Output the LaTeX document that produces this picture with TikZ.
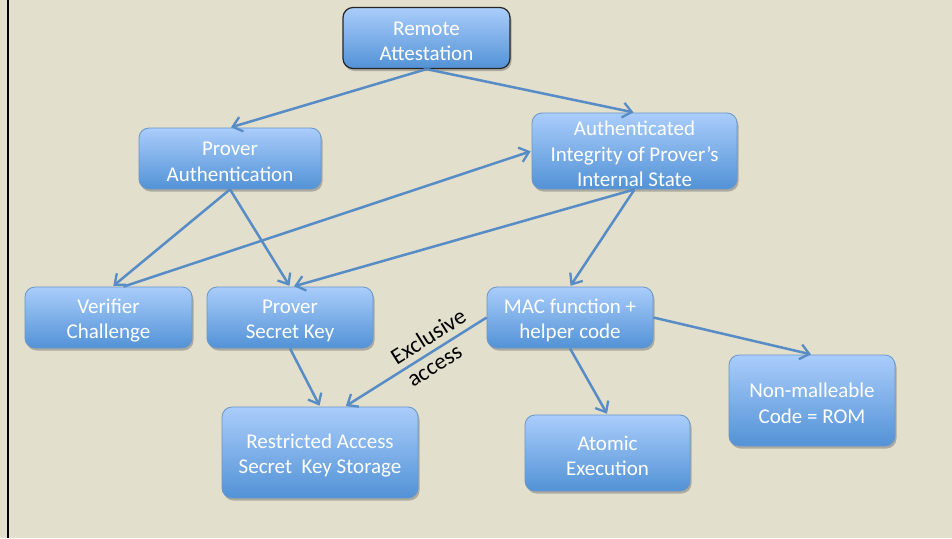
\documentclass[tikz,border=0pt]{standalone}
\usepackage{fontspec}
\setmainfont{Carlito}
\usetikzlibrary{arrows.meta,shadows}
\definecolor{paper}{RGB}{226,223,204}
\definecolor{boxtop}{RGB}{170,205,251}
\definecolor{boxbot}{RGB}{82,146,214}
\definecolor{boxline}{RGB}{104,150,204}
\definecolor{link}{RGB}{88,140,198}
% a tall invisible strut on the first line sets the text a little lower in its box
\newcommand{\padtop}{\rule{0pt}{20.5pt}}
\tikzset{
  goal/.style={rectangle, rounded corners=10pt, draw=boxline, line width=0.8pt,
    top color=boxtop, bottom color=boxbot, text=white, align=center,
    font=\fontsize{21}{25.5}\selectfont, inner sep=2pt,
    drop shadow={shadow xshift=1.5pt, shadow yshift=-2.5pt, opacity=0.35, fill=black!70}},
  link/.style={draw=link, line width=2.5pt,
    -{Straight Barb[length=9pt,width=15pt,line width=2.3pt]}, shorten >=1pt},
  tag/.style={text=black, font=\fontsize{23}{27}\selectfont, sloped}
}
\begin{document}
\begin{tikzpicture}[x=1pt, y=-1pt]
  \fill[paper] (0,0) rectangle (952,538);
  \useasboundingbox (0,0) rectangle (952,538);
  \draw[black, line width=2pt] (8,0) -- (8,538);

  \node[goal, draw=black!85, line width=1.2pt, minimum width=167pt, minimum height=61pt] (ra) at (426.5,38) {\padtop Remote\\Attestation};
  \node[goal, minimum width=182pt, minimum height=61pt] (pa) at (230,158.5) {\padtop Prover\\Authentication};
  \node[goal, minimum width=205pt, minimum height=76pt] (ai) at (634.5,151) {\padtop Authenticated\\Integrity of Prover’s\\Internal State};
  \node[goal, minimum width=167pt, minimum height=61pt] (vc) at (108.5,317.5) {\padtop Verifier\\Challenge};
  \node[goal, minimum width=166pt, minimum height=61pt] (psk) at (290,317.5) {\padtop Prover\\Secret Key};
  \node[goal, minimum width=166pt, minimum height=61pt] (mac) at (570,317.5) {\padtop MAC function +\\helper code};
  \node[goal, minimum width=196pt, minimum height=91pt] (ras) at (320,452.5) {\padtop Restricted Access\\Secret\ \ Key Storage};
  \node[goal, minimum width=165pt, minimum height=76pt] (ae) at (607.5,453) {\padtop Atomic\\Execution};
  \node[goal, minimum width=166pt, minimum height=91pt] (nm) at (812,400.5) {\padtop Non-malleable\\Code = ROM};

  \draw[link] (ra.south) -- (pa.north);
  \draw[link] (ra.south) -- (ai.north);
  \draw[link] (pa.south) -- ([xshift=4pt]vc.north);
  \draw[link] (pa.south) -- (psk.north);
  \draw[link] ([xshift=15pt]vc.north) -- (ai.west);
  \draw[link] (ai.south) -- ([xshift=3pt]psk.north);
  \draw[link] (ai.south) -- (mac.north);
  \draw[link] (psk.south) -- (ras.north);
  \draw[link] (mac.west) -- ([xshift=25pt]ras.north)
    node[tag, pos=0.355, above, inner sep=6pt] (excl) {Exclusive}
    node[tag, pos=0.417, below, inner sep=8pt] (acc) {access};
  \draw[link] (mac.east) -- (nm.north);
  \draw[link] (mac.south) -- (ae.north);
\end{tikzpicture}
\end{document}
